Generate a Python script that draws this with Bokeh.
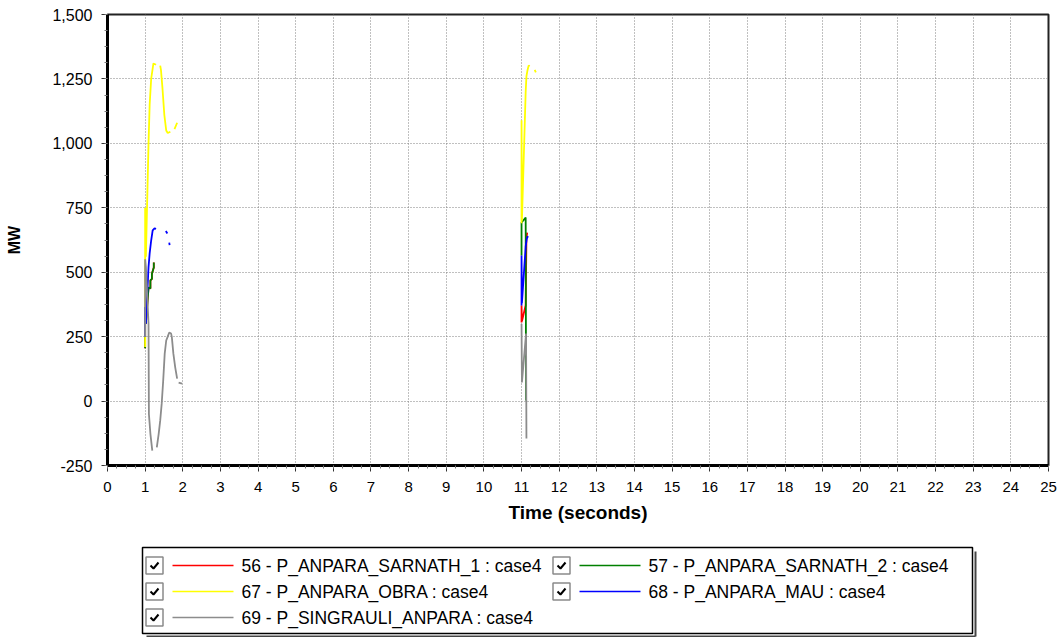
from bokeh.plotting import figure
from bokeh.layouts import column
from bokeh.models import Range1d, FixedTicker, NumeralTickFormatter
from bokeh.embed import file_html
from bokeh.resources import INLINE
from bokeh.core.properties import value

nan = float("nan")

# Branch power flows (MW) for case4; NaN marks samples missing from the record
t56 = [1.00, 1.00, 1.02, 1.09, 1.14, 1.14, 1.18, 1.18, 1.23, 1.23, nan,
       11.00, 11.00, 11.01, 11.11, 11.13, 11.15]
v56 = [205, 340, 300, 440, 437, 468, 474, 494, 518, 538, nan,
       305, 371, 310, 372, 630, 654]

t57 = [1.00, 1.00, 1.02, 1.09, 1.14, 1.14, 1.18, 1.18, 1.23, 1.23, nan,
       11.00, 11.00, 11.11, 11.12]
v57 = [205, 340, 300, 440, 437, 468, 474, 494, 518, 538, nan,
       565, 693, 712, 2]

t67 = [1.00, 1.00, 1.02, 1.09, 1.12, 1.16, 1.20, 1.22, 1.29, nan,
       1.40, 1.42, 1.46, 1.51, 1.56, 1.60, 1.67, nan, 1.78, 1.85, nan,
       11.00, 11.00, 11.01, 11.11, 11.13, 11.16, 11.19, 11.22, nan, 11.35, 11.38]
v67 = [210, 750, 560, 1000, 1150, 1250, 1290, 1310, 1305, nan,
       1302, 1285, 1215, 1110, 1050, 1040, 1045, nan, 1055, 1080, nan,
       690, 1090, 700, 1200, 1260, 1285, 1302, 1300, nan, 1285, 1275]

t68 = [1.00, 1.00, 1.02, 1.09, 1.12, 1.16, 1.20, 1.25, 1.29, nan,
       1.55, 1.59, nan, 1.64, 1.65, nan,
       11.00, 11.00, 11.01, 11.11, 11.14, 11.17]
v68 = [250, 365, 300, 520, 573, 623, 662, 670, 668, nan,
       660, 650, nan, 615, 605, nan,
       371, 565, 380, 600, 630, 640]

t69 = [1.00, 1.00, 1.02, 1.09, 1.10, 1.14, 1.19, nan,
       1.31, 1.36, 1.40, 1.44, 1.48, 1.52, 1.56, 1.60, 1.64, 1.69, 1.71,
       1.75, 1.80, 1.85, nan, 1.89, 1.98, nan,
       11.00, 11.01, 11.12, 11.13]
v69 = [250, 550, 520, 300, -50, -127, -192, nan,
       -180, -127, -76, -10, 80, 184, 235, 250, 266, 262, 247,
       184, 130, 87, nan, 72, 68, nan,
       300, 72, 262, -145]

series_names = ["56 - P_ANPARA_SARNATH_1 : case4",
                "57 - P_ANPARA_SARNATH_2 : case4",
                "67 - P_ANPARA_OBRA : case4",
                "68 - P_ANPARA_MAU : case4",
                "69 - P_SINGRAULI_ANPARA : case4"]
series_colors = ["#ff0000", "#008000", "#ffff00", "#0000ff", "#8c8c8c"]
series_t = [t56, t57, t67, t68, t69]
series_v = [v56, v57, v67, v68, v69]

x_ticks = list(range(0, 26))
x_minor = [i * 0.25 for i in range(0, 101)]
y_ticks = list(range(-250, 1501, 250))
y_minor = [-250 + 62.5 * i for i in range(0, 29)]

FONT = "Liberation Sans"
LEFT, RIGHT = 107, 14

p = figure(width=1062, height=540,
           x_range=Range1d(0, 25), y_range=Range1d(-250, 1500),
           output_backend="svg", toolbar_location=None,
           min_border_left=LEFT, min_border_right=RIGHT,
           min_border_top=14, min_border_bottom=75)
p.background_fill_color = "white"
p.border_fill_color = "white"
p.outline_line_color = "#222222"
p.outline_line_width = 2

for t, v, c in zip(series_t, series_v, series_colors):
    p.line(t, v, line_color=c, line_width=1.8)

p.xaxis.ticker = FixedTicker(ticks=x_ticks, minor_ticks=x_minor)
p.yaxis.ticker = FixedTicker(ticks=y_ticks, minor_ticks=y_minor)
p.yaxis.formatter = NumeralTickFormatter(format="0,0")

for ax in (p.xaxis[0], p.yaxis[0]):
    ax.axis_line_width = 3
    ax.axis_line_color = "black"
    ax.major_tick_in = 0
    ax.major_tick_out = 6
    ax.minor_tick_in = 0
    ax.minor_tick_out = 3
    ax.major_tick_line_color = "#333333"
    ax.minor_tick_line_color = "#777777"
    ax.major_label_text_font = FONT
    ax.major_label_text_color = "black"
    ax.axis_label_text_font = FONT
    ax.axis_label_text_font_style = "bold"
    ax.axis_label_text_color = "black"

p.xaxis.major_label_text_font_size = "15px"
p.yaxis.major_label_text_font_size = "16px"
p.xaxis.axis_label_text_font_size = "19px"
p.yaxis.axis_label_text_font_size = "16px"
p.xaxis.axis_label = "Time (seconds)"
p.yaxis.axis_label = "MW"
p.xaxis.major_label_standoff = 10
p.yaxis.major_label_standoff = 9
p.xaxis.axis_label_standoff = 7
p.yaxis.axis_label_standoff = 26

for g in (p.xgrid[0], p.ygrid[0]):
    g.grid_line_color = "#808080"
    g.grid_line_dash = "1 2"
    g.grid_line_width = 1

# Legend panel with check boxes; its frame lines up with the chart frame,
# so the x range is given in page pixels from LEFT to the right frame edge
lf = figure(width=1062, height=97,
            x_range=Range1d(LEFT, 1062 - RIGHT), y_range=Range1d(637, 540),
            output_backend="svg", toolbar_location=None, min_border=0,
            min_border_left=LEFT, min_border_right=RIGHT)
lf.axis.visible = False
lf.grid.visible = False
lf.outline_line_color = None
lf.background_fill_color = "white"
lf.border_fill_color = "white"

lf.line([975, 975], [551, 636], line_color="#444444", line_width=2)
lf.line([146, 975], [636, 636], line_color="#444444", line_width=2)
lf.quad(left=142, right=972, top=547, bottom=633,
        fill_color="white", line_color="black", line_width=1.5)

col_x = [154, 561]
row_y = [565, 591, 617]
box_x, box_y, lx0, lx1, tx, ty = [], [], [], [], [], []
for i, name in enumerate(series_names):
    cx = col_x[i % 2]
    cy = row_y[i // 2]
    box_x.append(cx)
    box_y.append(cy)
    lx0.append(cx + 18)
    lx1.append(cx + 79)
    tx.append(cx + 87)
    ty.append(cy)

lf.rect(x=box_x, y=box_y, width=17, height=17,
        fill_color="white", line_color="#8a8a8a", line_width=1.5)
lf.multi_line(xs=[[x - 4, x - 1, x + 4] for x in box_x],
              ys=[[y, y + 3, y - 3] for y in box_y],
              line_color="black", line_width=2)
lf.segment(x0=lx0, y0=ty, x1=lx1, y1=ty,
           line_color=series_colors, line_width=1.3)
lf.text(x=tx, y=ty, text=series_names, text_baseline="middle",
        text_font=value(FONT), text_font_size="17.5px", text_color="black")

layout = column(p, lf, spacing=0)
open("out.html", "w").write(file_html(layout, INLINE))
